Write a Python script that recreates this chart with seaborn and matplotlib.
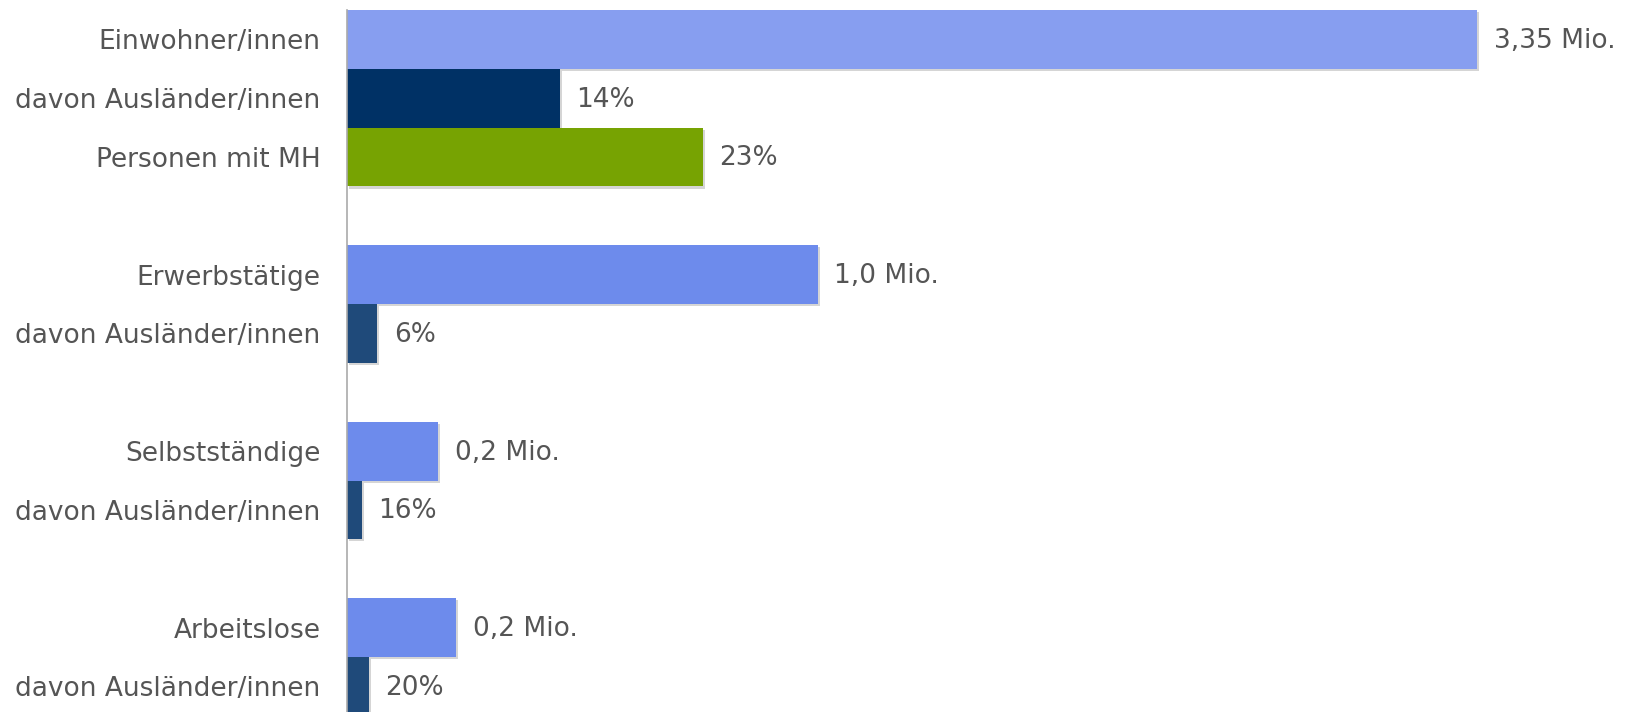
import matplotlib
matplotlib.use("Agg")
import matplotlib.pyplot as plt
import matplotlib.patheffects as pe
import pandas as pd
import seaborn as sns

# rows from top to bottom; gap rows are empty spacer slots
ROW_IDS = ["ew", "ew_aus", "ew_mh", "gap1",
           "erw", "erw_aus", "gap2",
           "selb", "selb_aus", "gap3",
           "arb", "arb_aus"]
ROW_LABELS = ["Einwohner/innen", "davon Ausländer/innen", "Personen mit MH", "",
              "Erwerbstätige", "davon Ausländer/innen", "",
              "Selbstständige", "davon Ausländer/innen", "",
              "Arbeitslose", "davon Ausländer/innen"]

# bar lengths as drawn (Mio.), and the label printed next to each bar
BAR_IDS = ["ew", "ew_aus", "ew_mh", "erw", "erw_aus", "selb", "selb_aus", "arb", "arb_aus"]
BAR_VALUES = [3.35, 0.63, 1.055, 1.395, 0.089, 0.27, 0.044, 0.323, 0.065]
BAR_TEXTS = ["3,35 Mio.", "14%", "23%", "1,0 Mio.", "6%", "0,2 Mio.", "16%", "0,2 Mio.", "20%"]
BAR_COLORS = ["#879ef0", "#003165", "#77a302", "#6d8bec", "#1f4a7a",
              "#6d8bec", "#1f4a7a", "#6d8bec", "#1f4a7a"]

TEXT_COLOR = "#555555"
FONT_SIZE = 19

sns.set_style("white")
plt.rcParams["font.family"] = ["DejaVu Sans"]

df = pd.DataFrame({"row": BAR_IDS, "value": BAR_VALUES})

fig = plt.figure(figsize=(16.33, 7.12), dpi=100)
ax = fig.add_axes([347 / 1633, -3.8 / 712, 1 - 347 / 1633, 705.8 / 712])

sns.barplot(data=df, x="value", y="row", hue="row", order=ROW_IDS,
            palette=dict(zip(BAR_IDS, BAR_COLORS)), width=1.0,
            legend=False, orient="h", ax=ax, saturation=1)

shadow = [pe.SimplePatchShadow(offset=(1.5, -1.5), shadow_rgbFace="#888888", alpha=0.35),
          pe.Normal()]
for patch in ax.patches:
    patch.set_linewidth(0)
    patch.set_path_effects(shadow)

for row, value, text in zip(BAR_IDS, BAR_VALUES, BAR_TEXTS):
    y = ROW_IDS.index(row)
    ax.annotate(text, xy=(value, y), xytext=(12, -1), textcoords="offset points",
                va="center", ha="left", fontsize=FONT_SIZE, color=TEXT_COLOR)

ax.set_xlim(0, 3.812)
ax.set_ylim(len(ROW_IDS) - 0.5, -0.5)
ax.set_xlabel("")
ax.set_ylabel("")
ax.set_xticks([])

ax.set_yticks(range(len(ROW_IDS)))
ax.set_yticklabels(ROW_LABELS, fontsize=FONT_SIZE, color=TEXT_COLOR)
ax.tick_params(axis="y", which="major", length=0, pad=19)
ax.set_yticks([i - 0.5 for i in range(len(ROW_IDS) + 1)], minor=True)
ax.tick_params(axis="y", which="minor", length=6, width=1.2, color="#aaaaaa")

for side in ["top", "right", "bottom"]:
    ax.spines[side].set_visible(False)
ax.spines["left"].set_color("#aaaaaa")
ax.spines["left"].set_linewidth(1.2)

fig.savefig("out.png", dpi=100)
